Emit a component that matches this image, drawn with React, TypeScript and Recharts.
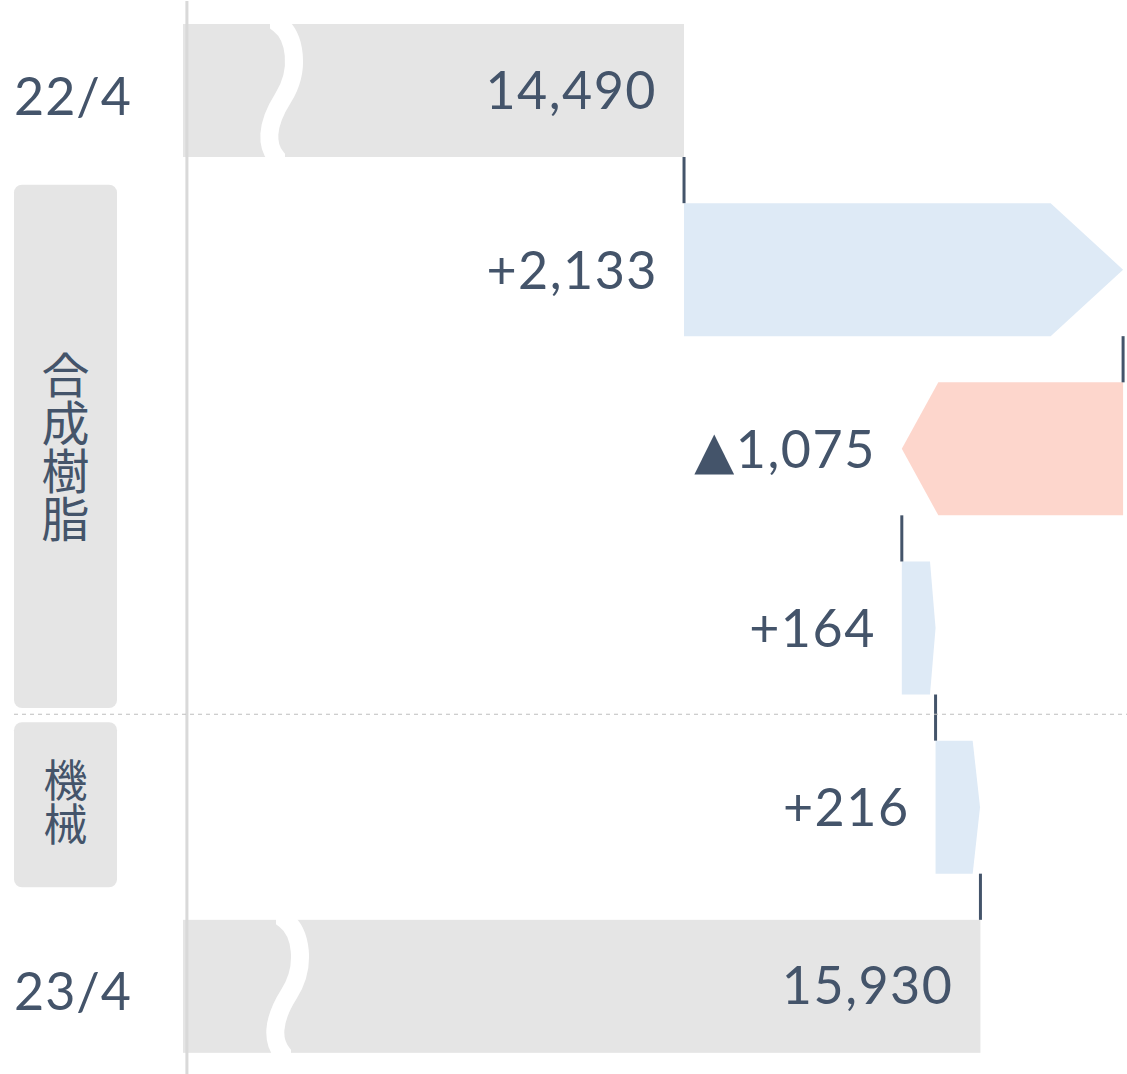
import React from 'react';
import { BarChart, Bar, XAxis, YAxis, ReferenceLine } from 'recharts';

// ---- data ----
const ROW_KEYS = ['22/4', '合成樹脂-1', '合成樹脂-2', '合成樹脂-3', '機械-1', '23/4'];
const ROW_LABELS = ['22/4', '', '', '', '', '23/4'];
const ROW_KINDS = ['total', 'delta', 'delta', 'delta', 'delta', 'total'];
const ROW_VALUES = [14490, 2133, -1075, 164, 216, 15930];
const GROUP_LABELS = ['合成樹脂', '機械'];
const GROUP_FIRST_ROW = [1, 4];
const GROUP_LAST_ROW = [3, 4];
const AXIS_MIN = 12056;
const AXIS_MAX = 16642;
const AXIS_LINE_VALUE = 12075;

// ---- layout / style ----
const CHART_W = 1127;
const CHART_H = 1076;
const MARGIN = { top: 1, right: 0, bottom: 0, left: 0 };
const Y_AXIS_W = 183;
const BAR_SIZE = 133;
const BAND = (CHART_H - MARGIN.top - MARGIN.bottom) / ROW_KEYS.length;
const GAP = BAND - BAR_SIZE;
const TEXT = '#44546A';
const TOTAL_FILL = '#E5E5E5';
const POS_FILL = '#DEEAF6';
const NEG_FILL = '#FDD6CC';
const FONT = "Lato, 'DejaVu Sans', 'Noto Sans CJK JP', sans-serif";
const CJK_FONT = "'Noto Sans CJK JP', sans-serif";
const NUM_SPACING = 1.5;

let running = 0;
const data = ROW_KEYS.map((key, i) => {
  const kind = ROW_KINDS[i];
  const v = ROW_VALUES[i];
  let start: number;
  let end: number;
  let range: number[];
  if (kind === 'total') {
    start = AXIS_MIN;
    end = v;
    range = [AXIS_MIN, v];
    running = v;
  } else {
    start = running;
    end = running + v;
    range = [Math.min(start, end), Math.max(start, end)];
    running = end;
  }
  return { key, index: i, label: ROW_LABELS[i], kind, value: v, start, end, range };
});

const fmt = (n: number) => Math.abs(n).toLocaleString('en-US');

function wavePath(x0: number, y0: number, h: number) {
  const s = h / 131;
  const p = (dx: number, dy: number) => `${x0 + dx},${y0 + dy * s}`;
  return `M${p(96, -4)} L${p(96, 0)} C${p(112, 12)} ${p(118, 45)} ${p(100, 73)} C${p(82, 101)} ${p(84, 120)} ${p(93, 131)} L${p(93, 135)}`;
}

const Connector = ({ x, y }: { x: number; y: number }) => (
  <line x1={x} x2={x} y1={y - GAP} y2={y} stroke={TEXT} strokeWidth={3} />
);

const BarShape = (props: any) => {
  const { x, y, width, height, payload } = props;
  const cy = y + height / 2;
  const idx = payload.index;
  if (payload.kind === 'total') {
    const waveShift = idx === 0 ? 0 : 6;
    return (
      <g>
        <rect x={x} y={y} width={width} height={height} fill={TOTAL_FILL} />
        <path d={wavePath(x + waveShift, y, height)} fill="none" stroke="#FFFFFF" strokeWidth={18} />
        <text
          x={x + width - 27}
          y={cy + 18}
          textAnchor="end"
          fill={TEXT}
          fontSize={52}
          fontFamily={FONT}
          letterSpacing={NUM_SPACING}
        >
          {fmt(payload.value)}
        </text>
        {idx > 0 && <Connector x={x + width} y={y} />}
      </g>
    );
  }
  const tip = width * 0.165;
  const positive = payload.value >= 0;
  const pts = positive
    ? `${x},${y} ${x + width - tip},${y} ${x + width},${cy} ${x + width - tip},${y + height} ${x},${y + height}`
    : `${x + tip},${y} ${x + width},${y} ${x + width},${y + height} ${x + tip},${y + height} ${x},${cy}`;
  const label = (positive ? '+' : '▲') + fmt(payload.value);
  return (
    <g>
      <polygon points={pts} fill={positive ? POS_FILL : NEG_FILL} />
      <text
        x={x - 26}
        y={cy + 19}
        textAnchor="end"
        fill={TEXT}
        fontSize={52}
        fontFamily={FONT}
        letterSpacing={NUM_SPACING}
      >
        {label}
      </text>
      <Connector x={positive ? x : x + width} y={y} />
    </g>
  );
};

const RowTick = (props: any) => {
  const { y, payload } = props;
  const idx = ROW_KEYS.indexOf(payload.value);
  const label = ROW_LABELS[idx];
  const gi = GROUP_FIRST_ROW.indexOf(idx);
  const parts: React.ReactNode[] = [];
  if (label) {
    parts.push(
      <text key="l" x={14} y={y + 24} textAnchor="start" fill={TEXT} fontSize={52} fontFamily={FONT} letterSpacing={1}>
        {label}
      </text>
    );
  }
  if (gi >= 0) {
    const last = GROUP_LAST_ROW[gi];
    const top = y - 85;
    const bottom = y + (last - idx) * BAND + 80;
    const big = GROUP_LABELS[gi].length > 2;
    const fs = big ? 48 : 44;
    const mid = (top + bottom) / 2 + (big ? 0 : -2);
    parts.push(<rect key="b" x={14} y={top} width={103} height={bottom - top} rx={8} ry={8} fill={TOTAL_FILL} />);
    parts.push(
      <text
        key="g"
        x={65.5}
        y={mid}
        textAnchor="middle"
        fill={TEXT}
        fontSize={fs}
        fontFamily={CJK_FONT}
        style={{ writingMode: 'vertical-rl' }}
      >
        {GROUP_LABELS[gi]}
      </text>
    );
    if (gi > 0) {
      parts.push(
        <line key="d" x1={14} x2={CHART_W} y1={y - 93} y2={y - 93} stroke="#BFBFBF" strokeWidth={1} strokeDasharray="4 4" />
      );
    }
  }
  return <g>{parts}</g>;
};

export default function App() {
  return (
    <div style={{ position: 'absolute', left: 0, top: 0, background: '#FFFFFF' }}>
      <BarChart
        width={CHART_W}
        height={CHART_H}
        data={data}
        layout="vertical"
        margin={MARGIN}
        barSize={BAR_SIZE}
      >
        <XAxis type="number" domain={[AXIS_MIN, AXIS_MAX]} allowDataOverflow hide />
        <YAxis
          type="category"
          dataKey="key"
          width={Y_AXIS_W}
          axisLine={false}
          tickLine={false}
          interval={0}
          tick={(p: any) => <RowTick {...p} />}
        />
        <Bar dataKey="range" shape={(p: any) => <BarShape {...p} />} isAnimationActive={false} />
        <ReferenceLine x={AXIS_LINE_VALUE} stroke="#D9D9D9" strokeWidth={3} ifOverflow="visible" />
      </BarChart>
    </div>
  );
}
